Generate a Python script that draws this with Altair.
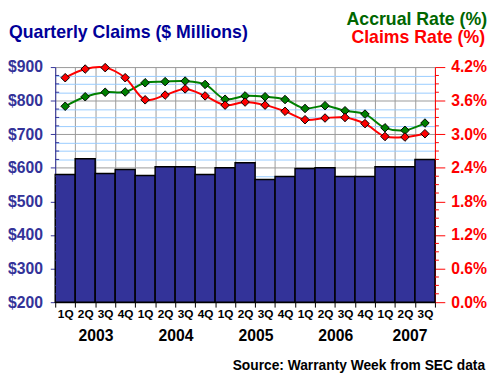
import altair as alt
import pandas as pd

# ---------------- data ----------------
years = ["2003"] * 4 + ["2004"] * 4 + ["2005"] * 4 + ["2006"] * 4 + ["2007"] * 3
quarters = ["1Q", "2Q", "3Q", "4Q"] * 4 + ["1Q", "2Q", "3Q"]
claims_musd = [580, 627, 583, 595, 577, 603, 603, 580, 600, 615,
               565, 574, 598, 600, 574, 574, 603, 603, 625]
claims_rate = [4.01, 4.165, 4.19, 4.01, 3.615, 3.70, 3.81, 3.685, 3.52, 3.575,
               3.52, 3.41, 3.26, 3.29, 3.30, 3.19, 2.96, 2.95, 3.01]
accrual_rate = [3.50, 3.67, 3.75, 3.755, 3.92, 3.94, 3.95, 3.89, 3.625, 3.685,
                3.67, 3.62, 3.46, 3.51, 3.42, 3.36, 3.115, 3.07, 3.20]
year_labels = ["2003", "2004", "2005", "2006", "2007"]

title_text = "Quarterly Claims ($ Millions)"
accrual_text = "Accrual Rate (%)"
claims_text = "Claims Rate (%)"
source_text = "Source: Warranty Week from SEC data"

left_ticks = list(range(200, 901, 25))
right_ticks = [round(0.15 * k, 2) for k in range(29)]

# ---------------- build ----------------
keys = [f"{y} {q}" for y, q in zip(years, quarters)]
df = pd.DataFrame({"key": keys, "claims": claims_musd,
                   "claims_rate": claims_rate, "accrual_rate": accrual_rate})

W, H = 386, 239
FONT = "Liberation Sans"
NAVY = "#333399"
RED = "#FF0000"
GREEN = "#008000"

x_enc = alt.X(
    "key:N", sort=keys,
    scale=alt.Scale(paddingInner=0, paddingOuter=0),
    axis=alt.Axis(title=None, labelExpr="split(datum.value, ' ')[1]", labelAngle=0,
                  labelFont=FONT, labelFontSize=12, labelFontWeight="bold",
                  labelColor="black", labelPadding=2, tickBand="extent", tickSize=5,
                  tickColor="black", domainColor="black", grid=True,
                  gridColor="#999999", gridWidth=1),
)

left_axis = alt.Axis(
    title=None, values=left_ticks, labelOverlap=False, labelFlush=False,
    labelExpr="datum.value % 100 === 0 ? '$' + datum.value : ''",
    labelFont=FONT, labelFontSize=16, labelFontWeight="bold", labelColor=NAVY,
    labelPadding=8, tickSize=5,
    tickColor={"condition": {"test": "datum.value % 100 === 0", "value": NAVY},
               "value": "transparent"},
    domainColor=NAVY, grid=True,
    gridColor={"condition": {"test": "datum.value % 100 === 0", "value": "#999999"},
               "value": "#99CCFF"},
)
left_scale = alt.Scale(domain=[200, 900], zero=False, nice=False)

right_axis = alt.Axis(
    title=None, orient="right", values=right_ticks, labelOverlap=False, labelFlush=False,
    labelExpr="round(datum.value * 100) % 60 === 0 ? format(datum.value, '.1f') + '%' : ''",
    labelFont=FONT, labelFontSize=16, labelFontWeight="bold", labelColor=RED,
    labelPadding=6, tickSize=10,
    tickColor={"condition": {"test": "round(datum.value * 100) % 60 === 0", "value": RED},
               "value": "transparent"},
    domainColor=RED, grid=False,
)
right_scale = alt.Scale(domain=[0, 4.2], nice=False)

base = alt.Chart(df)

bars = base.mark_bar(color=NAVY, stroke="black", strokeWidth=1.5).encode(
    x=x_enc,
    y=alt.Y("claims:Q", scale=left_scale, axis=left_axis),
    y2=alt.datum(200),
)
lminor = pd.DataFrame({"v": [v for v in left_ticks if v % 100 != 0]})
left_minor = alt.Chart(lminor).mark_rule(color=NAVY, strokeWidth=1).encode(
    y=alt.Y("v:Q", scale=left_scale, axis=left_axis),
    x=alt.value(0), x2=alt.value(4),
)
left_layer = alt.layer(bars, left_minor)

rminor = pd.DataFrame({"r": [v for v in right_ticks if round(v * 100) % 60 != 0]})
right_minor = alt.Chart(rminor).mark_rule(color=RED, strokeWidth=1).encode(
    y=alt.Y("r:Q", scale=right_scale, axis=right_axis),
    x=alt.value(W), x2=alt.value(W + 4),
)


def series(field, color):
    ln = base.mark_line(color=color, strokeWidth=2, interpolate="catmull-rom").encode(
        x=x_enc, y=alt.Y(f"{field}:Q", scale=right_scale, axis=right_axis))
    pt = base.mark_point(shape="diamond", filled=True, fill=color, stroke="black",
                         strokeWidth=1, size=75, opacity=1).encode(
        x=x_enc, y=alt.Y(f"{field}:Q", scale=right_scale, axis=right_axis))
    return ln, pt


acc_l, acc_p = series("accrual_rate", GREEN)
clm_l, clm_p = series("claims_rate", RED)
right_layer = alt.layer(right_minor, acc_l, clm_l, acc_p, clm_p)

# year labels
yr_df = pd.DataFrame({"key": [f"{y} 2Q" for y in year_labels[:4]], "year": year_labels[:4]})
yr4 = alt.Chart(yr_df).mark_text(font=FONT, fontSize=16, fontWeight="bold", color="black",
                                 baseline="middle", dx=11).encode(
    x=x_enc, y=alt.value(273), text="year:N")
yr_df2 = pd.DataFrame({"key": [f"{year_labels[4]} 2Q"], "year": [year_labels[4]]})
yr3 = alt.Chart(yr_df2).mark_text(font=FONT, fontSize=16, fontWeight="bold", color="black",
                                  baseline="middle", dx=5).encode(
    x=x_enc, y=alt.value(273), text="year:N")


def label(txt, xpos, ypos, color, size, align):
    return alt.Chart(pd.DataFrame({"t": [txt]})).mark_text(
        font=FONT, fontSize=size, fontWeight="bold", color=color, align=align,
        baseline="middle").encode(text="t:N", x=alt.value(xpos), y=alt.value(ypos))


t_title = label(title_text, -47, -35, "#000099", 18, "left")
t_acc = label(accrual_text, 439, -48, "#006600", 18, "right")
t_clm = label(claims_text, 437, -29, RED, 18, "right")
t_src = label(source_text, 437, 304, "black", 14, "right")

chart = alt.layer(left_layer, right_layer, yr4, yr3, t_title, t_acc, t_clm, t_src).resolve_scale(
    y="independent"
).properties(
    width=W, height=H, autosize="none",
    padding={"left": 48, "top": 57, "right": 58, "bottom": 73},
).configure_view(stroke=None)

chart.save("out.html", embed_options={"renderer": "svg", "actions": False})
